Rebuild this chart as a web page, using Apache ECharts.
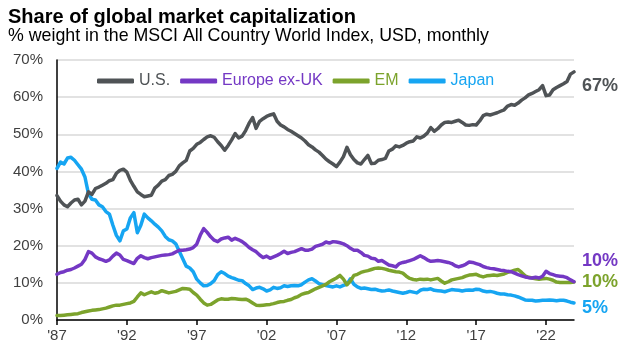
<!DOCTYPE html>
<html>
<head>
<meta charset="utf-8">
<script src="https://cdn.jsdelivr.net/npm/echarts@6/dist/echarts.min.js"></script>
<style>
  html, body { margin: 0; padding: 0; background: #fff; }
  #chart { width: 630px; height: 354px; }
</style>
</head>
<body>
<div id="chart"></div>
<script>
// quarterly points, 1987Q1 .. 2024Q1 (% of ACWI)
var quarters = [];
for (var y = 1987; y <= 2024; y++) {
  for (var q = 1; q <= 4; q++) {
    if (y === 2024 && q > 1) break;
    quarters.push(y + 'Q' + q);
  }
}

var usShare = [
  33.5, 32, 31, 30.5,
  31.5, 32.3, 32.5, 31,
  32, 34.5, 33.8, 35.4,
  35.8, 36.3, 36.8, 37.5,
  37.8, 39.5, 40.3, 40.6,
  39.8, 37.6, 36, 34.5,
  33.8, 33.2, 33.4, 33.6,
  35.5, 36.3, 37.4, 37.8,
  38.9, 39.2, 40, 41.5,
  42.3, 43, 45.5, 46.2,
  47.3, 47.8, 48.6, 49.3,
  49.6, 49.2, 48, 47,
  45.7, 47, 48.5, 50.2,
  49, 49.5, 51, 53,
  54.5, 51.6, 53.5, 54.2,
  54.8, 55.2, 55.5, 53.5,
  52.5, 52, 51.3, 50.8,
  50.2, 49.6, 49, 48.2,
  47.2, 46.6, 45.8, 45.2,
  44.3, 43.3, 42.6, 42,
  41.3, 42.5, 44, 46.5,
  44.5, 43.2, 42.3, 42,
  43.2, 44.3, 42.1, 42.2,
  43, 43.2, 43.5, 45.5,
  46, 46.9, 46.6, 47,
  47.6, 48, 48.2, 49.3,
  49, 49.5, 50.3, 51.8,
  50.8, 51.5, 52.5, 53.2,
  53.3, 53.2, 53.5, 53.8,
  53.2, 52.5, 52.4, 52.6,
  52.5, 53.6, 55, 55.4,
  55.2, 55.5, 55.8, 56.2,
  56.6, 57.6, 58, 57.8,
  58.4, 59.2, 59.8, 60.6,
  61, 61.5, 62, 63.1,
  60.4, 60.6, 62, 62.6,
  63.1, 63.6, 64.2, 66.2,
  66.8
];

var europeShare = [
  12.3, 12.8, 13.0, 13.4,
  13.6, 14, 14.5, 15,
  16.3, 18.4, 18, 17,
  16.5, 16.2, 15.8, 16.2,
  17.2, 18, 17.5, 16.3,
  16.0, 15.6, 15.2, 16.6,
  17.3, 16.8, 16.5, 16.8,
  17, 17.2, 17.4, 17.5,
  17.6, 17.8, 18.3, 18.8,
  18.8, 18.9, 19.1, 19.5,
  20.4, 22.8, 24.6, 23.6,
  22.4, 21.5, 21.1, 21.8,
  22.1, 22.3, 21.5, 22,
  21.6, 21.1, 20.4, 19.5,
  18.9, 18.4, 17.5, 16.8,
  17.2, 16.6, 17.0, 17.4,
  17.9, 18.5, 17.9, 18.2,
  18.4, 18.8, 19.2, 18.8,
  18.8, 19.1, 19.8, 20.1,
  20.4, 21, 20.7, 21.1,
  21, 20.8, 20.5, 20,
  19.3, 18.8, 18.8, 18.2,
  17.4, 17.2, 16.6, 16.5,
  15.8, 16.0, 15.4, 14.8,
  14.6, 14.3, 15.2, 15.5,
  15.7, 16, 16.3, 16.8,
  17.3, 16.8, 16.2, 15.8,
  15.9, 16.0, 15.9, 15.7,
  15.5, 15.2, 14.6, 14.3,
  14.6, 15.0, 15.6, 15.5,
  15.2, 14.9, 14.4, 14.1,
  13.9, 13.8, 13.6, 13.4,
  13.3, 13.1, 13.0, 12.6,
  12.2, 11.9, 11.6, 11.4,
  11.3, 11.5, 11.3, 11.8,
  13.1, 12.5, 12.2, 11.9,
  11.8, 11.7, 11.4, 10.8,
  10.3
];

var emShare = [
  1.2, 1.2, 1.3, 1.4,
  1.5, 1.6, 1.7, 2.0,
  2.2, 2.4, 2.6, 2.7,
  2.8, 3.0, 3.2, 3.5,
  3.8, 4.0, 4.0, 4.2,
  4.4, 4.6, 5.0, 6.2,
  7.3, 6.8, 7.2, 7.6,
  7.2, 7.4, 7.9, 7.6,
  7.3, 7.5, 7.7, 8.1,
  8.5, 8.4, 8.3, 7.4,
  6.7, 5.6, 4.6, 4.0,
  4.2, 4.8, 5.4, 5.7,
  5.6, 5.6, 5.8, 5.7,
  5.6, 5.5, 5.6, 5.2,
  4.6, 4.0, 3.9, 4.0,
  4.1, 4.2, 4.4, 4.7,
  4.9, 5.0, 5.3, 5.5,
  6.0, 6.3, 6.9, 7.2,
  7.4, 7.9, 8.4, 8.8,
  9.2, 9.6, 10.3, 10.8,
  11.3, 12.0, 11.0, 9.5,
  10.5, 12, 12.3, 12.8,
  13.1, 13.3, 13.6, 13.9,
  14.0, 13.9, 13.7, 13.4,
  13.2, 13.0, 12.9, 12.6,
  11.8, 11.2, 10.9, 10.8,
  11.0, 10.9, 11.0, 10.8,
  11.0, 11.2, 10.5, 9.9,
  10.3, 10.8, 11.0, 11.2,
  11.4, 11.8, 12.1, 12.2,
  12.3, 11.9, 11.6, 11.9,
  12.0, 12.1, 12.0, 12.2,
  12.4, 12.8, 13.1, 13.4,
  13.6, 12.8, 11.9, 11.5,
  11.3, 11.1, 11.0, 11.1,
  11.2, 11.0, 10.7, 10.2,
  10.1, 10.1, 10.1, 10.1,
  10.2
];

var japanShare = [
  40.8, 42.5, 42, 43.6,
  43.8, 43, 41.8, 40.6,
  38.5, 34, 32.5, 32.3,
  31, 30.5, 29.2, 28.5,
  25.5, 22.8, 21.3, 24,
  24.5, 27.5, 28.9, 23.5,
  25.5, 28.5, 27.5, 26.7,
  25.8, 25, 24, 22.5,
  21.6, 21.3, 20.5, 18.5,
  16.5, 14.5, 14, 13,
  11, 10, 9.2, 9.3,
  9.8, 10.6, 12.2, 13,
  12.5, 11.8, 11.4, 11.1,
  10.7, 10.6, 9.8, 9.2,
  8.2, 8.6, 8.8, 8.4,
  7.8, 8.1, 8.8, 8.5,
  8.7, 9.2, 9.0, 9.2,
  9.3, 9.2, 9.5, 10.2,
  10.8, 11.1, 10.5, 9.8,
  9.5, 9.3, 9.1, 8.9,
  9.2, 8.9, 9.3, 9.6,
  11.1, 9.6, 8.9, 8.5,
  8.6, 8.4, 8.2, 8.3,
  8.0, 7.8, 7.9, 8.1,
  7.8, 7.6, 7.4, 7.2,
  7.4, 7.7, 7.5, 7.3,
  8, 8.3, 8.2, 8.4,
  8.0, 7.9, 7.8, 7.6,
  7.9, 8.2, 8.1, 8,
  7.8, 8.0, 8.1, 8.0,
  8.3, 8.2, 7.8, 7.6,
  7.7, 7.5, 7.2, 7.0,
  7.0, 6.8, 6.7, 6.5,
  6.2, 5.8, 5.4, 5.3,
  5.3, 5.1, 5.2, 5.3,
  5.3, 5.4, 5.3, 5.2,
  5.3, 5.3, 5.1, 4.8,
  4.6
];

var seriesNames = ['U.S.', 'Europe ex-UK', 'EM', 'Japan'];
var seriesColors = ['#4f5356', '#7438c4', '#7ca32c', '#16a5f2'];
var seriesData = [usShare, europeShare, emShare, japanShare];
var endLabelShift = [14, -21, 0, 5];

var FONT = '"Liberation Sans", Arial, sans-serif';

var chart = echarts.init(document.getElementById('chart'));

var series = seriesNames.map(function (name, i) {
  return {
    name: name,
    type: 'line',
    data: seriesData[i],
    showSymbol: false,
    smooth: false,
    animation: false,
    lineStyle: { color: seriesColors[i], width: 3.5, cap: 'round', join: 'round' },
    itemStyle: { color: seriesColors[i] },
    endLabel: {
      show: true,
      distance: 8,
      offset: [0, endLabelShift[i]],
      formatter: function (p) { return Math.round(p.value) + '%'; },
      color: seriesColors[i],
      fontFamily: FONT,
      fontSize: 18,
      fontWeight: 'bold'
    },
    z: 10 - i
  };
});

var option = {
  animation: false,
  title: {
    left: 3,
    top: 2,
    text: 'Share of global market capitalization',
    subtext: '% weight in the MSCI All Country World Index, USD, monthly',
    itemGap: 0,
    textStyle: { fontFamily: FONT, fontSize: 20, fontWeight: 'bold', color: '#000' },
    subtextStyle: { fontFamily: FONT, fontSize: 17.8, color: '#000' }
  },
  legend: {
    left: 92,
    top: 68,
    itemWidth: 37,
    itemHeight: 5,
    itemGap: 10,
    icon: 'roundRect',
    data: seriesNames.map(function (n, i) {
      return { name: n, textStyle: { color: seriesColors[i] } };
    }),
    textStyle: { fontFamily: FONT, fontSize: 16 }
  },
  grid: { left: 57, right: 56, top: 60, bottom: 34 },
  xAxis: {
    type: 'category',
    data: quarters,
    boundaryGap: false,
    axisLine: { lineStyle: { color: '#000', width: 1.5 } },
    axisTick: {
      length: 5,
      lineStyle: { color: '#000', width: 1.5 },
      interval: function (idx) { return idx % 20 === 0; }
    },
    axisLabel: {
      margin: 8,
      interval: function (idx) { return idx % 20 === 0; },
      formatter: function (v) { return "'" + v.slice(2, 4); },
      fontFamily: FONT,
      fontSize: 15,
      color: '#404040'
    },
    splitLine: { show: false }
  },
  yAxis: {
    type: 'value',
    min: 0,
    max: 70,
    interval: 10,
    axisLine: { show: true, lineStyle: { color: '#000', width: 1.5 } },
    axisTick: { show: false },
    axisLabel: {
      margin: 14,
      formatter: '{value}%',
      fontFamily: FONT,
      fontSize: 15,
      color: '#404040'
    },
    splitLine: { lineStyle: { color: '#d9d9d9', width: 1.5 } }
  },
  series: series
};

chart.setOption(option);

window.addEventListener('resize', function () {
  chart.resize();
});
</script>
</body>
</html>
